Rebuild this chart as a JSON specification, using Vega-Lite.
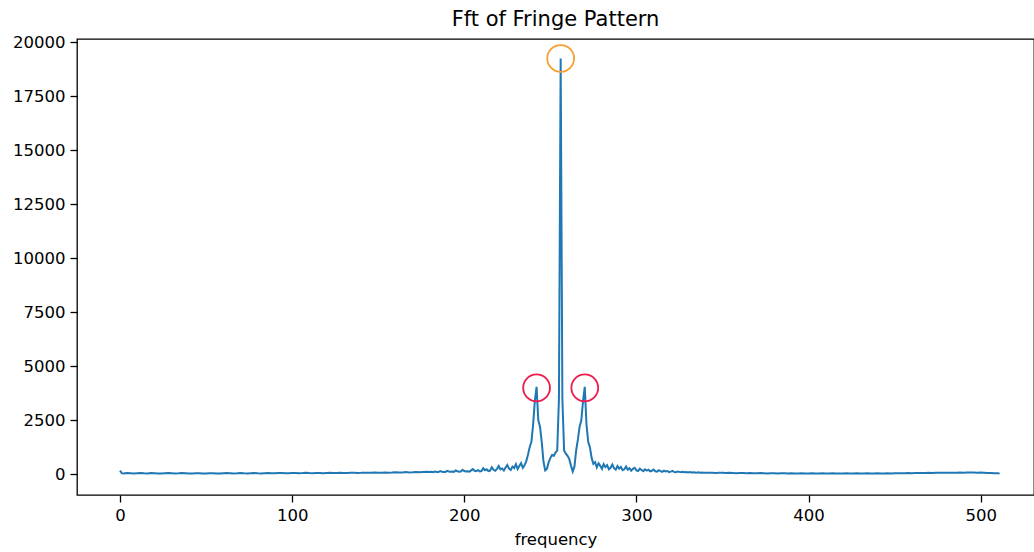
{
 "$schema": "https://vega.github.io/schema/vega-lite/v6.json",
 "width": 957,
 "height": 456,
 "autosize": {"type": "none"},
 "padding": {"left": 77, "top": 39, "right": 0, "bottom": 57},
 "background": "white",
 "title": {"text": "Fft of Fringe Pattern", "font": "DejaVu Sans", "fontSize": 21, "fontWeight": "normal", "color": "#000", "anchor": "middle", "offset": 4},
 "config": {
  "view": {"stroke": "#000", "strokeWidth": 1.3},
  "axis": {"domain": false, "grid": false, "tickColor": "#000", "tickWidth": 1.3, "tickSize": 7, "labelFont": "DejaVu Sans", "labelFontSize": 16.5, "labelColor": "#000", "labelPadding": 5, "titleFont": "DejaVu Sans", "titleFontSize": 16.5, "titleFontWeight": "normal", "titleColor": "#000"}
 },
 "datasets": {
  "spec": [
   {"f":0,"a":170},{"f":1,"a":50},{"f":2,"a":40},{"f":4,"a":55},{"f":6,"a":45},{"f":8,"a":35},{"f":10,"a":50},{"f":12,"a":60},{"f":14,"a":45},{"f":16,"a":40},{"f":18,"a":55},{"f":20,"a":50},{"f":22,"a":40},{"f":24,"a":35},{"f":26,"a":45},{"f":28,"a":55},{"f":30,"a":50},{"f":32,"a":40},{"f":34,"a":45},{"f":36,"a":55},{"f":38,"a":50},{"f":40,"a":35},{"f":42,"a":40},{"f":44,"a":50},{"f":46,"a":45},{"f":48,"a":35},{"f":50,"a":40},{"f":52,"a":50},{"f":54,"a":45},{"f":56,"a":40},{"f":58,"a":35},{"f":60,"a":45},{"f":62,"a":55},{"f":64,"a":50},{"f":66,"a":40},{"f":68,"a":45},{"f":70,"a":55},{"f":72,"a":45},{"f":74,"a":40},{"f":76,"a":50},{"f":78,"a":55},{"f":80,"a":45},{"f":82,"a":40},{"f":84,"a":50},{"f":86,"a":60},{"f":88,"a":50},{"f":90,"a":45},{"f":92,"a":55},{"f":94,"a":60},{"f":96,"a":50},{"f":98,"a":45},{"f":100,"a":55},{"f":102,"a":60},{"f":104,"a":50},{"f":106,"a":55},{"f":108,"a":65},{"f":110,"a":55},{"f":112,"a":50},{"f":114,"a":60},{"f":116,"a":55},{"f":118,"a":50},{"f":120,"a":60},{"f":122,"a":65},{"f":124,"a":55},{"f":126,"a":60},{"f":128,"a":70},{"f":130,"a":60},{"f":132,"a":55},{"f":134,"a":65},{"f":136,"a":70},{"f":138,"a":60},{"f":140,"a":65},{"f":142,"a":75},{"f":144,"a":65},{"f":146,"a":70},{"f":148,"a":80},{"f":150,"a":70},{"f":152,"a":75},{"f":154,"a":85},{"f":156,"a":75},{"f":158,"a":80},{"f":160,"a":90},{"f":162,"a":80},{"f":164,"a":85},{"f":166,"a":100},{"f":168,"a":85},{"f":170,"a":95},{"f":172,"a":110},{"f":174,"a":90},{"f":176,"a":105},{"f":178,"a":120},
   {"f":180,"a":100},{"f":181,"a":115},{"f":182,"a":95},{"f":183,"a":130},{"f":184,"a":105},{"f":185,"a":100},{"f":186,"a":145},{"f":187,"a":120},{"f":188,"a":110},{"f":189,"a":105},{"f":190,"a":160},{"f":191,"a":130},{"f":192,"a":115},{"f":193,"a":125},{"f":194,"a":110},{"f":195,"a":175},{"f":196,"a":140},{"f":197,"a":120},{"f":198,"a":130},{"f":199,"a":210},{"f":200,"a":150},{"f":201,"a":125},{"f":202,"a":135},{"f":203,"a":120},{"f":204,"a":180},{"f":205,"a":240},{"f":206,"a":160},{"f":207,"a":140},{"f":208,"a":200},{"f":209,"a":130},{"f":210,"a":150},{"f":211,"a":280},{"f":212,"a":190},{"f":213,"a":230},{"f":214,"a":150},{"f":215,"a":170},{"f":216,"a":330},{"f":217,"a":210},{"f":218,"a":160},{"f":219,"a":250},{"f":220,"a":380},{"f":221,"a":230},{"f":222,"a":270},{"f":223,"a":170},{"f":224,"a":310},{"f":225,"a":430},{"f":226,"a":260},{"f":227,"a":200},{"f":228,"a":360},{"f":229,"a":290},{"f":230,"a":470},{"f":231,"a":240},{"f":232,"a":380},{"f":233,"a":520},{"f":234,"a":300},{"f":235,"a":420},{"f":236,"a":600},{"f":237,"a":900},{"f":238,"a":1250},{"f":239,"a":1500},{"f":240,"a":2300},{"f":241,"a":3400},{"f":242,"a":4050},{"f":243,"a":2500},{"f":244,"a":2200},{"f":245,"a":1500},{"f":246,"a":600},{"f":247,"a":180},{"f":248,"a":250},{"f":249,"a":550},{"f":250,"a":750},{"f":251,"a":900},{"f":252,"a":850},{"f":253,"a":1000},{"f":254,"a":1100},{"f":255,"a":3500},{"f":256,"a":19250},{"f":257,"a":3500},{"f":258,"a":1100},{"f":259,"a":950},{"f":260,"a":850},{"f":261,"a":700},{"f":262,"a":400},{"f":263,"a":130},{"f":264,"a":350},{"f":265,"a":1100},{"f":266,"a":1600},{"f":267,"a":2200},{"f":268,"a":2500},{"f":269,"a":3400},{"f":270,"a":4050},{"f":271,"a":2300},{"f":272,"a":1500},{"f":273,"a":1250},{"f":274,"a":750},{"f":275,"a":480},{"f":276,"a":560},{"f":277,"a":320},{"f":278,"a":510},{"f":279,"a":390},{"f":280,"a":250},{"f":281,"a":470},{"f":282,"a":330},{"f":283,"a":420},{"f":284,"a":230},{"f":285,"a":300},{"f":286,"a":450},{"f":287,"a":280},{"f":288,"a":210},{"f":289,"a":380},{"f":290,"a":260},{"f":291,"a":340},{"f":292,"a":190},{"f":293,"a":230},{"f":294,"a":360},{"f":295,"a":210},{"f":296,"a":280},{"f":297,"a":170},{"f":298,"a":250},{"f":299,"a":300},{"f":300,"a":180},{"f":301,"a":150},{"f":302,"a":260},{"f":303,"a":200},{"f":304,"a":140},{"f":305,"a":230},{"f":306,"a":170},{"f":307,"a":210},{"f":308,"a":130},{"f":309,"a":160},{"f":310,"a":220},{"f":311,"a":140},{"f":312,"a":120},{"f":313,"a":190},{"f":314,"a":150},{"f":315,"a":110},{"f":316,"a":170},{"f":317,"a":130},{"f":318,"a":150},{"f":319,"a":100},{"f":320,"a":120},{"f":321,"a":155},{"f":322,"a":105},{"f":323,"a":95},{"f":324,"a":130},{"f":325,"a":110},{"f":326,"a":90},{"f":327,"a":115},{"f":328,"a":95},{"f":329,"a":105},{"f":330,"a":85},{"f":331,"a":100},{"f":332,"a":80},{"f":333,"a":95},{"f":334,"a":85},{"f":335,"a":75},{"f":336,"a":90},{"f":337,"a":70},{"f":338,"a":80},{"f":339,"a":75},
   {"f":340,"a":65},{"f":342,"a":75},{"f":344,"a":70},{"f":346,"a":60},{"f":348,"a":70},{"f":350,"a":65},{"f":352,"a":55},{"f":354,"a":65},{"f":356,"a":60},{"f":358,"a":50},{"f":360,"a":60},{"f":362,"a":55},{"f":364,"a":45},{"f":366,"a":55},{"f":368,"a":50},{"f":370,"a":45},{"f":372,"a":55},{"f":374,"a":50},{"f":376,"a":40},{"f":378,"a":50},{"f":380,"a":45},{"f":382,"a":40},{"f":384,"a":50},{"f":386,"a":45},{"f":388,"a":35},{"f":390,"a":45},{"f":392,"a":40},{"f":394,"a":35},{"f":396,"a":45},{"f":398,"a":40},{"f":400,"a":35},{"f":402,"a":45},{"f":404,"a":40},{"f":406,"a":35},{"f":408,"a":45},{"f":410,"a":40},{"f":412,"a":35},{"f":414,"a":45},{"f":416,"a":40},{"f":418,"a":35},{"f":420,"a":40},{"f":422,"a":45},{"f":424,"a":35},{"f":426,"a":40},{"f":428,"a":45},{"f":430,"a":40},{"f":432,"a":35},{"f":434,"a":45},{"f":436,"a":40},{"f":438,"a":40},{"f":440,"a":45},{"f":442,"a":35},{"f":444,"a":40},{"f":446,"a":45},{"f":448,"a":40},{"f":450,"a":45},{"f":452,"a":50},{"f":454,"a":45},{"f":456,"a":50},{"f":458,"a":55},{"f":460,"a":50},{"f":462,"a":55},{"f":464,"a":60},{"f":466,"a":55},{"f":468,"a":60},{"f":470,"a":65},{"f":472,"a":60},{"f":474,"a":65},{"f":476,"a":70},{"f":478,"a":65},{"f":480,"a":70},{"f":482,"a":75},{"f":484,"a":70},{"f":486,"a":75},{"f":488,"a":80},{"f":490,"a":75},{"f":492,"a":80},{"f":494,"a":85},{"f":496,"a":80},{"f":498,"a":75},{"f":500,"a":80},{"f":502,"a":70},{"f":504,"a":60},{"f":506,"a":55},{"f":508,"a":50},{"f":510,"a":45},{"f":511,"a":40}
  ],
  "marks": [
   {"f": 242, "a": 4000, "kind": "side"},
   {"f": 270, "a": 4000, "kind": "side"},
   {"f": 256, "a": 19250, "kind": "center"}
  ]
 },
 "layer": [
  {
   "data": {"name": "spec"},
   "mark": {"type": "line", "color": "#1f77b4", "strokeWidth": 2, "clip": true},
   "encoding": {
    "x": {"field": "f", "type": "quantitative", "scale": {"domain": [-25, 531], "nice": false, "zero": false}, "axis": {"values": [0, 100, 200, 300, 400, 500], "title": "frequency", "titlePadding": 8}},
    "y": {"field": "a", "type": "quantitative", "scale": {"domain": [-960, 20150], "nice": false, "zero": false}, "axis": {"values": [0, 2500, 5000, 7500, 10000, 12500, 15000, 17500, 20000], "format": "d", "title": null}}
   }
  },
  {
   "data": {"name": "marks"},
   "mark": {"type": "point", "shape": "circle", "filled": false, "size": 720, "strokeWidth": 1.8, "opacity": 1},
   "encoding": {
    "x": {"field": "f", "type": "quantitative"},
    "y": {"field": "a", "type": "quantitative"},
    "color": {"field": "kind", "type": "nominal", "scale": {"domain": ["side", "center"], "range": ["#ee1c4e", "#f5a030"]}, "legend": null}
   }
  }
 ]
}
